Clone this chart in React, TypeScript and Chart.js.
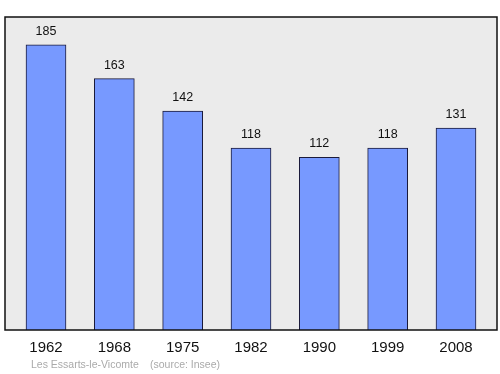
import React, { useEffect, useRef } from "react";
import { Chart, registerables } from "chart.js";

Chart.register(...registerables);

const years: string[] = ["1962", "1968", "1975", "1982", "1990", "1999", "2008"];
const population: number[] = [185, 163, 142, 118, 112, 118, 131];
const footerPlace = "Les Essarts-le-Vicomte";
const footerSource = "(source: Insee)";

const FONT = "'Liberation Sans', Arial, sans-serif";

const framePlugin = {
  id: "frame",
  beforeDraw(chart: any) {
    const { ctx, chartArea: a } = chart;
    ctx.save();
    ctx.fillStyle = "#ebebeb";
    ctx.fillRect(a.left, a.top, a.right - a.left, a.bottom - a.top);
    ctx.restore();
  },
  afterDatasetsDraw(chart: any) {
    const { ctx, chartArea: a } = chart;
    ctx.save();
    ctx.strokeStyle = "#111";
    ctx.lineWidth = 1.5;
    ctx.strokeRect(a.left, a.top, a.right - a.left, a.bottom - a.top);
    // value labels
    const meta = chart.getDatasetMeta(0);
    ctx.fillStyle = "#111";
    ctx.font = `12.5px ${FONT}`;
    ctx.textAlign = "center";
    ctx.textBaseline = "middle";
    meta.data.forEach((el: any, i: number) => {
      ctx.fillText(String(population[i]), el.x, el.y - 13.5);
    });
    // footer
    ctx.fillStyle = "#aaaaaa";
    ctx.font = `10.5px ${FONT}`;
    ctx.textAlign = "left";
    ctx.fillText(footerPlace, 31, 365);
    ctx.fillText(footerSource, 150, 365);
    ctx.restore();
  },
};

export default function App() {
  const ref = useRef<HTMLCanvasElement | null>(null);
  useEffect(() => {
    if (!ref.current) return;
    const chart = new Chart(ref.current, {
      type: "bar",
      data: {
        datasets: [
          {
            data: population.map((v, i) => ({ x: i, y: v })),
            backgroundColor: "#7799ff",
            borderColor: "#1a1a3a",
            borderWidth: 1,
            borderSkipped: "bottom",
            barThickness: 40,
          },
        ],
      },
      options: {
        animation: false,
        responsive: false,
        maintainAspectRatio: false,
        layout: { padding: { left: 5, right: 3, top: 17, bottom: 0 } },
        plugins: { legend: { display: false }, tooltip: { enabled: false }, title: { display: false } },
        scales: {
          x: {
            type: "linear",
            offset: false,
            min: -0.6,
            max: 6.6,
            grid: { display: false, drawTicks: false, offset: false },
            border: { display: false },
            afterBuildTicks: (scale: any) => {
              scale.ticks = years.map((_, i) => ({ value: i }));
            },
            afterFit: (scale: any) => {
              scale.height = 44;
            },
            ticks: {
              autoSkip: false,
              maxRotation: 0,
              padding: 9,
              color: "#111",
              font: { family: FONT, size: 15 },
              callback: (v: any) => years[Math.round(Number(v))] ?? "",
            },
          },
          y: {
            display: false,
            min: 0,
            max: 203,
          },
        },
      },
      plugins: [framePlugin],
    });
    return () => chart.destroy();
  }, []);
  return (
    <div style={{ position: "fixed", left: 0, top: 0, width: 500, height: 374, background: "#fff" }}>
      <canvas ref={ref} width={500} height={374} style={{ width: 500, height: 374 }} />
    </div>
  );
}
